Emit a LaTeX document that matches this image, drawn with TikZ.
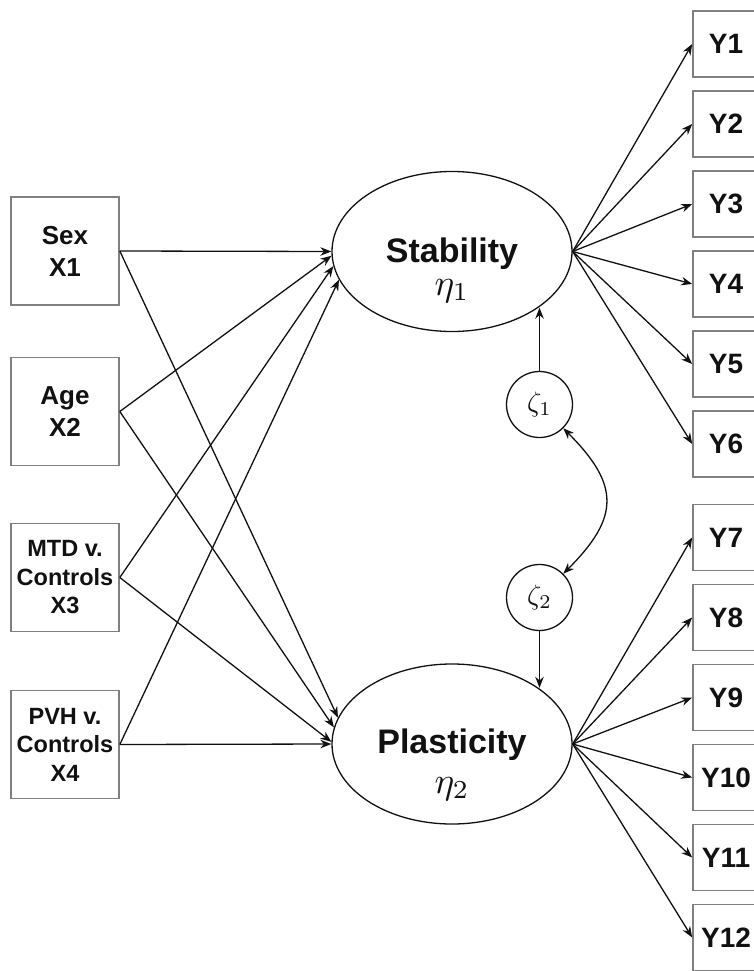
\documentclass[tikz,border=0pt]{standalone}
\usepackage{graphicx}
\usepackage[no-math]{fontspec}
\setmainfont{Liberation Sans}
\usetikzlibrary{shapes.geometric,arrows.meta}

\definecolor{boxgray}{HTML}{808080}
\definecolor{ink}{HTML}{111111}

% math symbols set at 10pt and enlarged
\newcommand{\bigsym}[2]{\scalebox{#1}{\fontsize{10}{12}\selectfont$#2$}}

\tikzset{
  xbox/.style={draw=boxgray, line width=1.6pt, minimum width=108pt, minimum height=108pt,
    inner sep=0pt, align=center, text=ink},
  xtwo/.style={xbox, font=\bfseries\fontsize{26}{32}\selectfont},
  xthree/.style={xbox, font=\bfseries\fontsize{23.5}{28.5}\selectfont},
  ybox/.style={draw=boxgray, line width=1.6pt, minimum width=66pt, minimum height=66pt,
    inner sep=0pt, text=ink, font=\bfseries\fontsize{28}{33}\selectfont},
  latent/.style={ellipse, draw=ink, line width=1.3pt, minimum width=240pt, minimum height=160pt,
    inner sep=0pt},
  latname/.style={anchor=base, inner sep=0pt, text=ink, font=\bfseries\fontsize{34}{40}\selectfont},
  latsym/.style={anchor=base, inner sep=0pt, text=ink},
  dist/.style={circle, draw=ink, line width=1.3pt, minimum size=66pt, inner sep=0pt, text=ink},
  arr/.style={draw=ink, line width=1.3pt, -{Stealth[length=11pt,width=8.5pt]}},
  arrboth/.style={draw=ink, line width=1.3pt,
    {Stealth[length=11pt,width=8.5pt]}-{Stealth[length=11pt,width=8.5pt]}}
}

\begin{document}
\begin{tikzpicture}[x=1pt, y=-1pt]
  \useasboundingbox (0,0) rectangle (754,971);
  \clip (0,0) rectangle (754,971);

  % observed predictors
  \node[xtwo]   (x1) at (65,251)   {Sex\\X1};
  \node[xtwo]   (x2) at (65,411.5) {Age\\X2};
  \node[xthree] (x3) at (65,577.5) {MTD v.\\Controls\\X3};
  \node[xthree] (x4) at (65,744.5) {PVH v.\\Controls\\X4};

  % latent factors
  \node[latent] (stab)  at (452,251.5) {};
  \node[latname] (stabname) at (452,262) {Stability};
  \node[latsym]  (stabsym)  at (452,295) {\bigsym{3.7}{\eta_1}};

  \node[latent] (plast) at (452,744) {};
  \node[latname] (plastname) at (452,753.5) {Plasticity};
  \node[latsym]  (plastsym)  at (452,793) {\bigsym{3.7}{\eta_2}};

  % disturbances
  \node[dist] (z1) at (539.5,404.5) {\bigsym{2.8}{\zeta_1}};
  \node[dist] (z2) at (539.5,597.5) {\bigsym{2.8}{\zeta_2}};

  % indicators
  \foreach \i/\yy in {1/44,2/124,3/204,4/284,5/364,6/444,
                      7/537.5,8/617.5,9/697.5,10/777.5,11/857.5,12/937.5}
    \node[ybox] (y\i) at (726,\yy) {Y\i};

  % structural paths
  \draw[arr] (x1.east) -- (stab.180);
  \draw[arr] (x2.east) -- (stab.182);
  \draw[arr] (x3.east) -- (stab.187.4);
  \draw[arr] (x4.east) -- (stab.194);

  \draw[arr] (x1.east) -- (plast.167);
  \draw[arr] (x2.east) -- (plast.172.4);
  \draw[arr] (x3.east) -- (plast.179);
  \draw[arr] (x4.east) -- (plast.180);

  % disturbance paths and covariance
  \draw[arr] (z1.north) -- (z1.north |- stab.-33);
  \draw[arr] (z2.south) -- (z2.south |- plast.33);
  \draw[arrboth] (z1.-45) .. controls +(-45:80pt) and +(45:80pt) .. (z2.45);

  % measurement paths
  \foreach \i in {1,...,6}
    \draw[arr] (stab.east) -- (y\i.west);
  \foreach \i in {7,...,12}
    \draw[arr] (plast.east) -- (y\i.west);
\end{tikzpicture}
\end{document}
